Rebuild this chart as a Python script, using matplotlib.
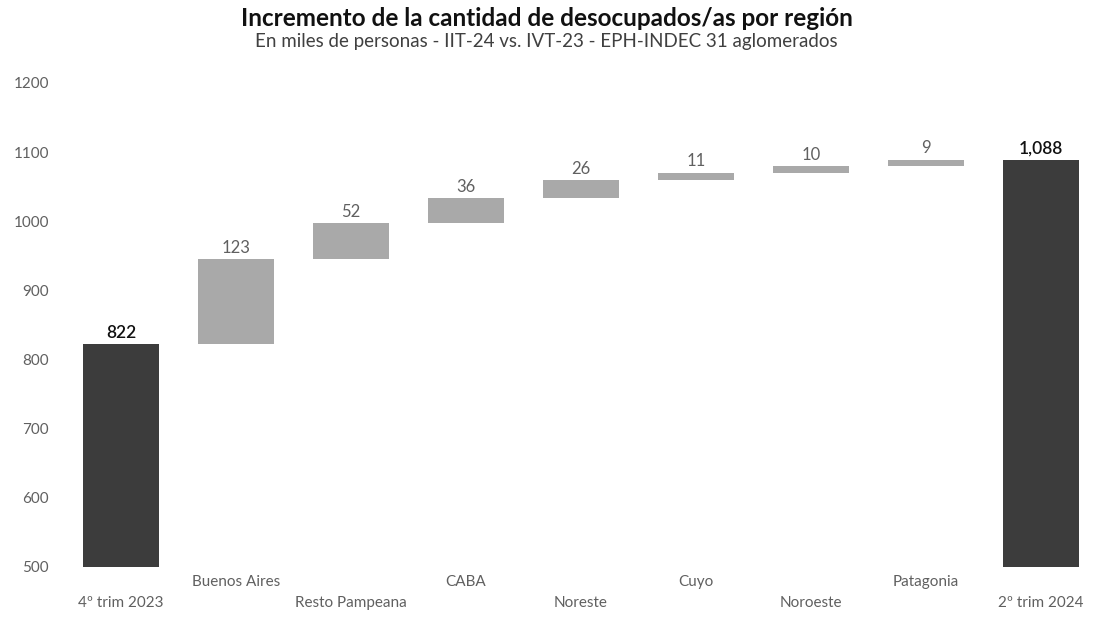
import matplotlib
matplotlib.use("Agg")
import matplotlib.pyplot as plt
import numpy as np

categories = ["4º trim 2023", "Buenos Aires", "Resto Pampeana", "CABA", "Noreste",
              "Cuyo", "Noroeste", "Patagonia", "2º trim 2024"]
start_value = 822
increments = [123, 52, 36, 26, 11, 10, 9]
end_value = 1088
y_ticks = [500, 600, 700, 800, 900, 1000, 1100, 1200]
y_tick_labels = ["500", "600", "700", "800", "900", "1000", "1100", "1200"]

title = "Incremento de la cantidad de desocupados/as por región"
subtitle = "En miles de personas - IIT-24 vs. IVT-23 - EPH-INDEC 31 aglomerados"

plt.rcParams['font.family'] = ['Lato', 'DejaVu Sans']

fig = plt.figure(figsize=(10.93, 6.17), dpi=100)
ax = fig.add_axes([60 / 1093, 50 / 617, (1088 - 60) / 1093, (534 - 50) / 617])

base = 500
dark = "#3c3c3c"
light = "#a9a9a9"
width = 0.66

x = np.arange(len(categories))
ax.bar(x[0], start_value - base, bottom=base, width=width, color=dark)
ax.text(x[0], start_value + 5, f"{start_value}", ha="center", va="bottom",
        fontsize=12.5, color="#111111", fontweight="semibold")

cum = start_value
for i, inc in enumerate(increments, start=1):
    ax.bar(x[i], inc, bottom=cum, width=width, color=light)
    ax.text(x[i], cum + inc + 5, f"{inc}", ha="center", va="bottom",
            fontsize=12, color="#606060")
    cum += inc

ax.bar(x[-1], end_value - base, bottom=base, width=width, color=dark)
ax.text(x[-1], end_value + 5, f"{end_value:,}", ha="center", va="bottom",
        fontsize=12.5, color="#111111", fontweight="semibold")

ax.set_ylim(500, 1200)
ax.set_xlim(-0.53, 8.41)
ax.set_yticks(y_ticks)
ax.set_yticklabels(y_tick_labels, fontsize=11, color="#606060")
ax.set_xticks(x)
labels = [("\n" + c if i % 2 == 0 else c) for i, c in enumerate(categories)]
ax.set_xticklabels(labels, fontsize=11, color="#606060", linespacing=1.6)
ax.tick_params(length=0, axis="both")
ax.tick_params(axis="y", pad=8)
ax.tick_params(axis="x", pad=6)
for s in ax.spines.values():
    s.set_visible(False)

fig.text(0.5, 1 - 18 / 617, title, ha="center", va="center", fontsize=17.5,
         fontweight="bold", color="#111111")
fig.text(0.5, 1 - 42 / 617, subtitle, ha="center", va="center", fontsize=13.5,
         color="#404040")

fig.savefig("out.png", dpi=100)
